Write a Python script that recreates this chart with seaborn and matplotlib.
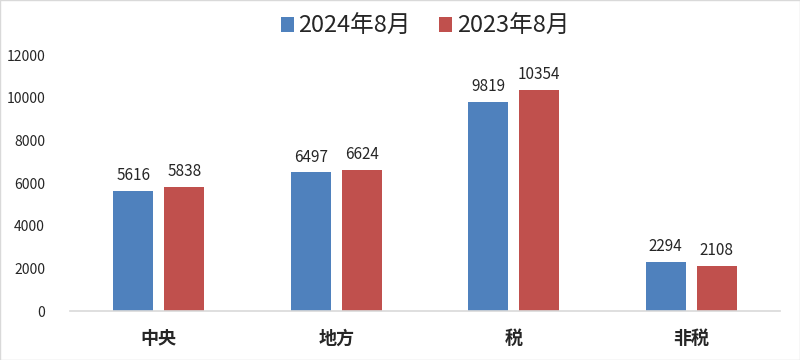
import seaborn as sns
import pandas as pd
import matplotlib.pyplot as plt

categories = ["中央", "地方", "税", "非税"]
series_names = ["2024年8月", "2023年8月"]
values_2024 = [5616, 6497, 9819, 2294]
values_2023 = [5838, 6624, 10354, 2108]
colors = ["#4F81BD", "#C0504D"]

df = pd.DataFrame({
    "cat": categories * 2,
    "series": [series_names[0]] * 4 + [series_names[1]] * 4,
    "value": values_2024 + values_2023,
})

sns.set_style("white")
plt.rcParams['font.family'] = ['Noto Sans CJK SC', 'DejaVu Sans']

fig = plt.figure(figsize=(8, 3.6), dpi=100)
ax = fig.add_axes([0.0875, 0.136, 0.8875, 0.711])

sns.barplot(data=df, x="cat", y="value", hue="series", palette=colors,
            width=0.575, gap=0.216, ax=ax, saturation=1, edgecolor=None, linewidth=0)

for c in ax.containers:
    ax.bar_label(c, labels=[f"{int(v)}" for v in c.datavalues], padding=5, fontsize=11)

ax.set_ylim(0, 12000)
ax.set_xlim(-0.5, 3.5)
ax.set_yticks(range(0, 12001, 2000))
ax.tick_params(axis='y', labelsize=10, length=0, pad=18)
ax.tick_params(axis='x', labelsize=13, length=0, pad=13)
for t in ax.get_xticklabels():
    t.set_fontweight("bold")
ax.set_xlabel("")
ax.set_ylabel("")
for s in ["top", "right", "left"]:
    ax.spines[s].set_visible(False)
ax.spines["bottom"].set_color("#d9d9d9")
ax.spines["bottom"].set_linewidth(1.2)

ax.legend(loc="upper center", bbox_to_anchor=(0.5, 1.24), ncol=2, frameon=False,
          fontsize=17, handlelength=0.55, handleheight=0.6, handletextpad=0.2,
          columnspacing=1.2)

fig.patches.append(plt.Rectangle((0, 0), 1, 1, transform=fig.transFigure,
                                 fill=False, edgecolor="#d9d9d9", linewidth=1))
fig.savefig("out.png", dpi=100)
